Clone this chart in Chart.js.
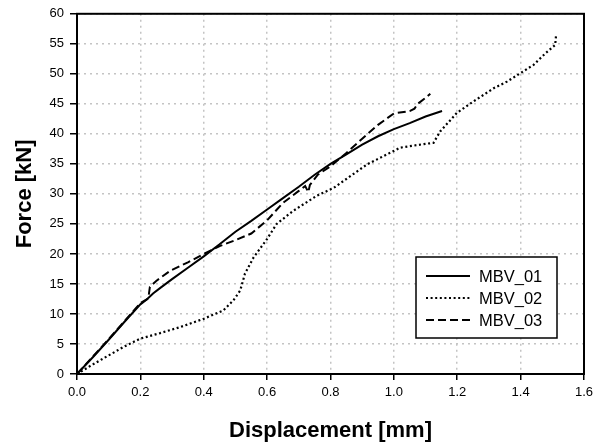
<!DOCTYPE html>
<html>
<head>
<meta charset="utf-8">
<script src="https://cdn.jsdelivr.net/npm/chart.js@4"></script>
<style>
  body { margin: 0; background: #fff; }
</style>
</head>
<body>
<canvas id="plot" width="601" height="445"></canvas>
<script>
// series: displacement [mm] / force [kN]
const mbv01_x = [0, 0.05, 0.1, 0.15, 0.2, 0.22, 0.24, 0.262, 0.3, 0.35, 0.4, 0.45, 0.5, 0.55, 0.6, 0.65, 0.7, 0.75, 0.8, 0.85, 0.9, 0.95, 1.0, 1.05, 1.1, 1.152];
const mbv01_y = [0, 2.8, 5.7, 8.7, 11.6, 12.4, 13.4, 14.3, 15.8, 17.7, 19.6, 21.6, 23.7, 25.5, 27.4, 29.3, 31.2, 33.2, 35.0, 36.6, 38.2, 39.6, 40.8, 41.8, 42.9, 43.8];

const mbv02_x = [0, 0.05, 0.1, 0.15, 0.2, 0.262, 0.325, 0.4, 0.462, 0.494, 0.515, 0.53, 0.557, 0.6, 0.63, 0.683, 0.757, 0.81, 0.915, 1.02, 1.094, 1.125, 1.146, 1.199, 1.251, 1.315, 1.357, 1.399, 1.441, 1.478, 1.509, 1.512];
const mbv02_y = [0, 1.6, 3.1, 4.6, 5.9, 6.8, 7.8, 9.2, 10.6, 12.3, 13.9, 16.7, 19.4, 22.5, 25.0, 27.2, 29.7, 31.0, 34.9, 37.7, 38.3, 38.5, 40.4, 43.5, 45.4, 47.6, 48.7, 50.1, 51.5, 53.4, 54.8, 56.5];

const mbv03_x = [0, 0.05, 0.1, 0.15, 0.2, 0.225, 0.23, 0.25, 0.294, 0.35, 0.4, 0.45, 0.5, 0.55, 0.6, 0.65, 0.7, 0.72, 0.73, 0.735, 0.76, 0.8, 0.85, 0.9, 0.95, 1.0, 1.05, 1.065, 1.075, 1.1, 1.115];
const mbv03_y = [0, 2.9, 5.8, 8.8, 11.8, 12.6, 14.5, 15.5, 17.2, 18.6, 20.0, 21.3, 22.3, 23.4, 25.6, 28.5, 30.5, 31.3, 30.3, 31.5, 33.2, 34.6, 36.8, 39.2, 41.5, 43.4, 43.8, 44.2, 45.0, 46.0, 46.7];

const seriesNames = ['MBV_01', 'MBV_02', 'MBV_03'];
const xTitle = 'Displacement [mm]';
const yTitle = 'Force [kN]';

function pts(xs, ys) {
  return xs.map((x, i) => ({ x: x, y: ys[i] }));
}

const font = "'Liberation Sans', Arial, sans-serif";

// draw the top/right frame and the boxed legend inside the plot
const framePlugin = {
  id: 'frame',
  afterDraw(chart) {
    const ctx = chart.ctx;
    const a = chart.chartArea;
    ctx.save();
    ctx.strokeStyle = '#000';
    ctx.lineWidth = 2;
    ctx.setLineDash([]);
    ctx.strokeRect(a.left, a.top, a.right - a.left, a.bottom - a.top);

    // legend box
    const bx = 416, by = 257, bw = 141, bh = 81;
    ctx.fillStyle = '#fff';
    ctx.fillRect(bx, by, bw, bh);
    ctx.lineWidth = 1.5;
    ctx.strokeRect(bx, by, bw, bh);
    ctx.font = '16.5px ' + font;
    ctx.textBaseline = 'middle';
    chart.data.datasets.forEach((ds, i) => {
      const y = by + 19 + i * 22;
      ctx.beginPath();
      ctx.setLineDash(ds.borderDash || []);
      ctx.lineWidth = 2;
      ctx.strokeStyle = '#000';
      ctx.moveTo(426, y);
      ctx.lineTo(470, y);
      ctx.stroke();
      ctx.setLineDash([]);
      ctx.fillStyle = '#000';
      ctx.fillText(ds.label, 479, y + 1);
    });
    ctx.restore();
  }
};

const chart = new Chart(
  document.getElementById('plot'),
  {
    type: 'line',
    data: {
      datasets: [
        {
          label: seriesNames[0],
          data: pts(mbv01_x, mbv01_y),
          borderColor: '#000',
          borderWidth: 2,
          pointRadius: 0,
          tension: 0
        },
        {
          label: seriesNames[1],
          data: pts(mbv02_x, mbv02_y),
          borderColor: '#000',
          borderWidth: 2.2,
          borderDash: [2, 2.6],
          pointRadius: 0,
          tension: 0
        },
        {
          label: seriesNames[2],
          data: pts(mbv03_x, mbv03_y),
          borderColor: '#000',
          borderWidth: 2,
          borderDash: [8, 4],
          pointRadius: 0,
          tension: 0
        }
      ]
    },
    options: {
      responsive: false,
      animation: false,
      events: [],
      layout: { padding: { top: 12, right: 17, left: 0, bottom: 0 } },
      plugins: {
        legend: { display: false },
        tooltip: { enabled: false }
      },
      scales: {
        x: {
          type: 'linear',
          min: 0,
          max: 1.6,
          afterFit: s => { s.height = 71; },
          border: { display: true, color: '#000', width: 2, dash: [2, 4] },
          grid: {
            color: '#c4c4c4',
            lineWidth: 1.5,
            tickLength: 6,
            tickColor: '#000',
            tickWidth: 1.5,
            tickBorderDash: []
          },
          ticks: {
            stepSize: 0.2,
            padding: 5,
            color: '#000',
            font: { family: font, size: 13 },
            callback: v => v.toFixed(1)
          },
          title: {
            display: true,
            text: xTitle,
            color: '#000',
            font: { family: font, size: 22, weight: 'bold' },
            padding: { bottom: 1 }
          }
        },
        y: {
          min: 0,
          max: 60,
          afterFit: s => { s.width = 77; },
          border: { display: true, color: '#000', width: 2, dash: [2, 4] },
          grid: {
            color: '#c4c4c4',
            lineWidth: 1.5,
            tickLength: 7,
            tickColor: '#000',
            tickWidth: 1.5,
            tickBorderDash: []
          },
          ticks: {
            stepSize: 5,
            padding: 6,
            color: '#000',
            font: { family: font, size: 13 },
            callback: v => String(v)
          },
          title: {
            display: true,
            text: yTitle,
            color: '#000',
            font: { family: font, size: 22, weight: 'bold' },
            padding: { top: 12 }
          }
        }
      }
    },
    plugins: [framePlugin]
  }
);
</script>
</body>
</html>
